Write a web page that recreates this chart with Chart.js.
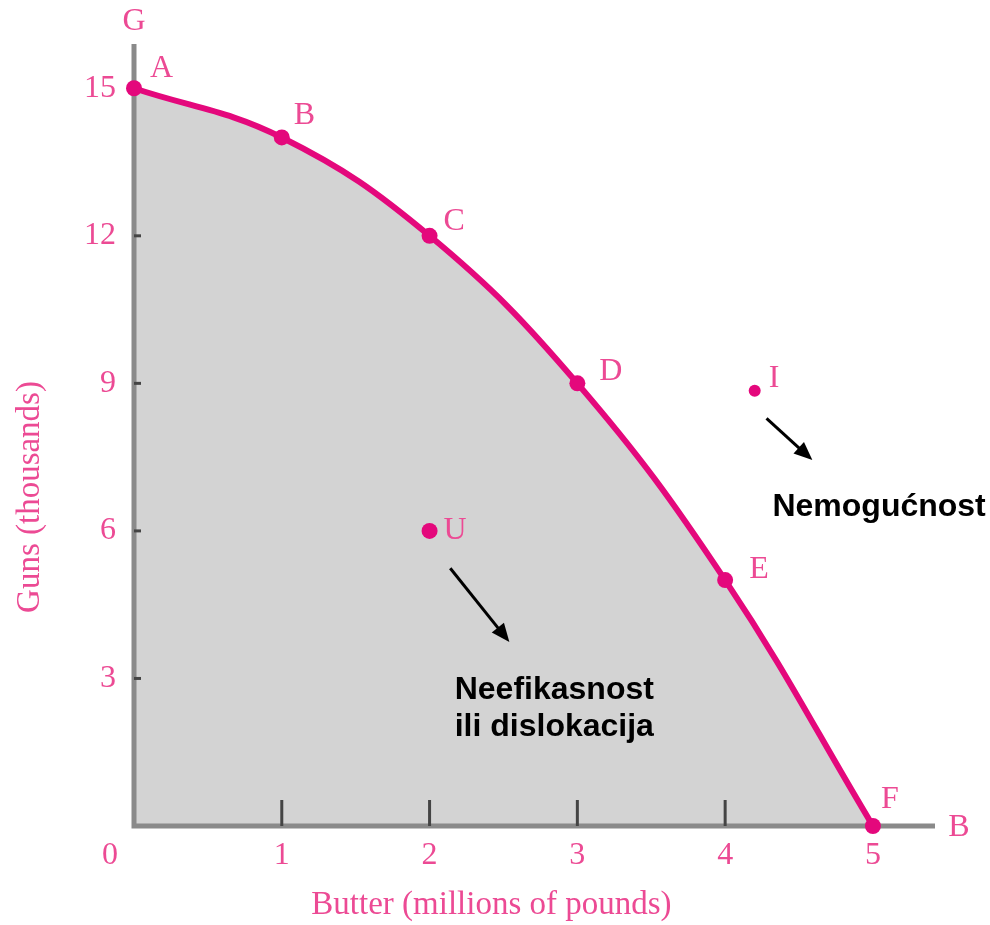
<!DOCTYPE html>
<html>
<head>
<meta charset="utf-8">
<script src="https://cdn.jsdelivr.net/npm/chart.js@4/dist/chart.umd.min.js"></script>
<style>
  body { margin: 0; background: #fff; }
  #wrap { width: 990px; height: 925px; position: relative; }
</style>
</head>
<body>
<div id="wrap"><canvas id="ppfChart"></canvas></div>
<script>
// Production possibility frontier: butter vs guns
const butter = [0, 1, 2, 3, 4, 5];
const guns = [15, 14, 12, 9, 5, 0];
const pointNames = ['A', 'B', 'C', 'D', 'E', 'F'];
const xTicks = [0, 1, 2, 3, 4, 5];
const yTicks = [3, 6, 9, 12, 15];
const uPoint = [2, 6];
const iPoint = [4.2, 8.85];
const uArrow = [[2.14, 5.24], [2.54, 3.74]];
const iArrow = [[4.28, 8.29], [4.59, 7.44]];

const magenta = '#e4087c';
const pink = '#ec4a94';
const serif = '"Liberation Serif", "DejaVu Serif", serif';

const ctx = document.getElementById('ppfChart').getContext('2d');

function arrow(c, x1, y1, x2, y2) {
  const ang = Math.atan2(y2 - y1, x2 - x1);
  const head = 20;
  c.save();
  c.strokeStyle = '#000';
  c.fillStyle = '#000';
  c.lineWidth = 3;
  c.beginPath();
  c.moveTo(x1, y1);
  c.lineTo(x2 - Math.cos(ang) * head * 0.8, y2 - Math.sin(ang) * head * 0.8);
  c.stroke();
  c.beginPath();
  c.moveTo(x2, y2);
  c.lineTo(x2 - head * Math.cos(ang - 0.4), y2 - head * Math.sin(ang - 0.4));
  c.lineTo(x2 - head * Math.cos(ang + 0.4), y2 - head * Math.sin(ang + 0.4));
  c.closePath();
  c.fill();
  c.restore();
}

const axesPlugin = {
  id: 'axesPlugin',
  beforeDatasetsDraw(chart) {
    const c = chart.ctx;
    const xs = chart.scales.x, ys = chart.scales.y;
    const x0 = xs.getPixelForValue(0), y0 = ys.getPixelForValue(0);
    c.save();
    // axis lines
    c.strokeStyle = '#8a8a8a';
    c.lineWidth = 5;
    c.beginPath();
    c.moveTo(x0, ys.top);
    c.lineTo(x0, y0);
    c.lineTo(xs.right, y0);
    c.stroke();
    // ticks
    c.strokeStyle = '#444';
    c.lineWidth = 3;
    xTicks.forEach(v => {
      if (v === 0 || v === 5) return;
      const px = xs.getPixelForValue(v);
      c.beginPath();
      c.moveTo(px, y0 - 26);
      c.lineTo(px, y0);
      c.stroke();
    });
    yTicks.forEach(v => {
      const py = ys.getPixelForValue(v);
      c.beginPath();
      c.moveTo(x0, py);
      c.lineTo(x0 + 7, py);
      c.stroke();
    });
    c.restore();
  },
  afterDatasetsDraw(chart) {
    const c = chart.ctx;
    const xs = chart.scales.x, ys = chart.scales.y;
    const x0 = xs.getPixelForValue(0), y0 = ys.getPixelForValue(0);
    c.save();
    c.fillStyle = pink;
    c.font = '32px ' + serif;
    c.textBaseline = 'middle';

    // tick labels
    c.textAlign = 'center';
    xTicks.forEach(v => {
      const px = v === 0 ? x0 - 24 : xs.getPixelForValue(v);
      c.fillText(String(v), px, y0 + 30);
    });
    c.textAlign = 'right';
    yTicks.forEach(v => {
      c.fillText(String(v), x0 - 18, ys.getPixelForValue(v));
    });

    // axis end letters
    c.textAlign = 'center';
    c.fillText('G', x0, 22);
    c.fillText('B', xs.right + 24, y0 + 2);

    // titles
    c.font = '33px ' + serif;
    c.fillText('Butter (millions of pounds)', (x0 + xs.getPixelForValue(5)) / 2 - 12, 905);
    c.save();
    c.translate(30, 497);
    c.rotate(-Math.PI / 2);
    c.fillText('Guns (thousands)', 0, 0);
    c.restore();

    // point letters
    c.font = '32px ' + serif;
    c.textAlign = 'left';
    const offs = [[16, -20], [12, -22], [14, -14], [22, -12], [24, -10], [8, -26]];
    butter.forEach((b, i) => {
      c.fillText(pointNames[i], xs.getPixelForValue(b) + offs[i][0], ys.getPixelForValue(guns[i]) + offs[i][1]);
    });
    c.fillText('U', xs.getPixelForValue(uPoint[0]) + 14, ys.getPixelForValue(uPoint[1]));
    c.fillText('I', xs.getPixelForValue(iPoint[0]) + 14, ys.getPixelForValue(iPoint[1]) - 12);

    // arrows
    arrow(c, xs.getPixelForValue(uArrow[0][0]), ys.getPixelForValue(uArrow[0][1]),
      xs.getPixelForValue(uArrow[1][0]), ys.getPixelForValue(uArrow[1][1]));
    arrow(c, xs.getPixelForValue(iArrow[0][0]), ys.getPixelForValue(iArrow[0][1]),
      xs.getPixelForValue(iArrow[1][0]), ys.getPixelForValue(iArrow[1][1]));

    // annotations
    c.fillStyle = '#000';
    c.font = 'bold 32px "Liberation Sans", Arial, sans-serif';
    c.fillText('Nemogućnost', xs.getPixelForValue(4.32), ys.getPixelForValue(6.48));
    c.fillText('Neefikasnost', xs.getPixelForValue(2.17), ys.getPixelForValue(2.76));
    c.fillText('ili dislokacija', xs.getPixelForValue(2.17), ys.getPixelForValue(2.0));
    c.restore();
  }
};

new Chart(ctx, {
  type: 'scatter',
  data: {
    datasets: [
      {
        label: 'PPF',
        data: butter.map((b, i) => ({ x: b, y: guns[i] })),
        showLine: true,
        tension: 0.4,
        clip: false,
        borderColor: magenta,
        borderWidth: 6,
        backgroundColor: magenta,
        pointBackgroundColor: magenta,
        pointBorderWidth: 0,
        pointRadius: 8,
        fill: { target: 'origin', above: '#d3d3d3' }
      },
      {
        label: 'U',
        data: [{ x: uPoint[0], y: uPoint[1] }],
        pointBackgroundColor: magenta,
        pointBorderWidth: 0,
        pointRadius: 8
      },
      {
        label: 'I',
        data: [{ x: iPoint[0], y: iPoint[1] }],
        pointBackgroundColor: magenta,
        pointBorderWidth: 0,
        pointRadius: 6
      }
    ]
  },
  options: {
    responsive: true,
    maintainAspectRatio: false,
    animation: false,
    layout: { padding: { left: 134, right: 55, top: 44, bottom: 99 } },
    scales: {
      x: { type: 'linear', min: 0, max: 5.42, display: false },
      y: { type: 'linear', min: 0, max: 15.9, display: false }
    },
    plugins: {
      legend: { display: false },
      tooltip: { enabled: false },
      filler: { drawTime: 'beforeDatasetsDraw' }
    }
  },
  plugins: [axesPlugin]
});
</script>
</body>
</html>
